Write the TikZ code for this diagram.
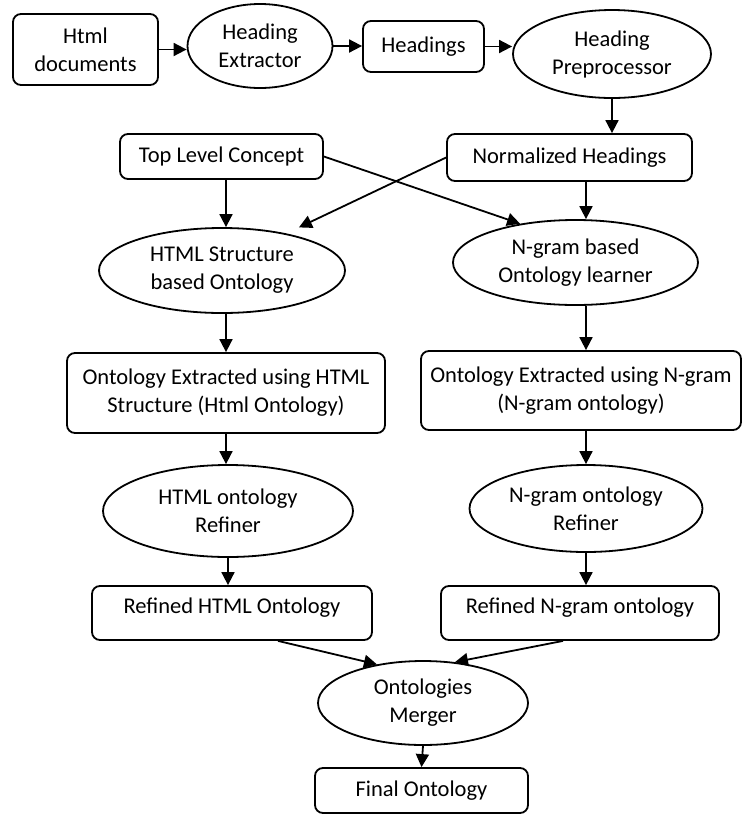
\documentclass[tikz,border=0pt]{standalone}
\usepackage{fontspec}
\setmainfont{Carlito}
\usetikzlibrary{shapes.geometric,arrows.meta}
\begin{document}
\begin{tikzpicture}[x=1pt, y=-1pt,
  every node/.style={font=\fontsize{22.5pt}{28pt}\selectfont, inner sep=0pt, line width=1.8pt},
  boxnode/.style={draw, rectangle, rounded corners=8pt, align=center},
  ovalnode/.style={draw, ellipse, align=center},
  flow/.style={line width=1.8pt, -{Triangle[length=13pt,width=13pt]}},
]
\useasboundingbox (0,0) rectangle (742,815);

% top row: extraction and preprocessing of headings
\node[boxnode, minimum width=145pt, minimum height=71pt] (html) at (85.5,49.5) {Html\\documents};
\node[ovalnode, minimum width=145pt, minimum height=84pt] (hext) at (260,46) {Heading\\Extractor};
\node[boxnode, minimum width=121pt, minimum height=51pt] (hdgs) at (423.5,46.5) {Headings};
\node[ovalnode, minimum width=198pt, minimum height=88pt] (hpre) at (612,54) {Heading\\Preprocessor};

% inputs of the two learners
\node[boxnode, minimum width=203pt, minimum height=45pt] (tlc) at (221.5,156.5) {Top Level Concept};
\node[boxnode, minimum width=245pt, minimum height=47pt] (nh) at (569.5,157.5) {Normalized Headings};

% learners
\node[ovalnode, minimum width=246pt, minimum height=85pt] (hso) at (222,270.5) {HTML Structure\\based Ontology};
\node[ovalnode, minimum width=245pt, minimum height=85pt] (ngl) at (575.5,262.5) {N-gram based\\Ontology learner};

% extracted ontologies
\node[boxnode, minimum width=318pt, minimum height=80pt] (oeh) at (226,393) {Ontology Extracted using HTML\\Structure (Html Ontology)};
\node[boxnode, minimum width=320pt, minimum height=79pt] (oen) at (581,390.5) {Ontology Extracted using N-gram\\(N-gram ontology)};

% refiners
\node[ovalnode, minimum width=250pt, minimum height=92pt] (hr) at (228,511) {HTML ontology\\Refiner};
\node[ovalnode, minimum width=233pt, minimum height=87pt] (nr) at (586,508.5) {N-gram ontology\\Refiner};

% refined ontologies
\node[boxnode, minimum width=280pt, minimum height=54pt, text height=15pt, text depth=15pt] (rh) at (232,613) {Refined HTML Ontology};
\node[boxnode, minimum width=278pt, minimum height=54pt, text height=15pt, text depth=15pt] (rn) at (580,613) {Refined N-gram ontology};

% merging
\node[ovalnode, minimum width=210pt, minimum height=84pt] (mrg) at (423,703) {Ontologies\\Merger};
\node[boxnode, minimum width=213pt, minimum height=45pt] (fin) at (421.5,790.5) {Final Ontology};

% connectors
\draw[flow] (html.east) -- (html.east -| hext.west);
\draw[flow] (hext.east) -- (hext.east -| hdgs.west);
\draw[flow] (hdgs.east) -- (hdgs.east -| hpre.west);
\draw[flow] (hpre.south) -- (hpre.south |- nh.north);

\draw[flow] (oeh.north |- tlc.south) -- (oeh.north |- hso.north);
\draw[flow] (nr.north |- nh.south) -- (nr.north |- ngl.north);
\draw[flow] (tlc.east) -- (ngl.145);
\draw[flow, shorten >=14pt] (nh.west) -- (hso.30);

\draw[flow] (oeh.north |- hso.south) -- (oeh.north);
\draw[flow] (oeh.south) -- (oeh.south |- hr.north);
\draw[flow] (hr.south) -- (hr.south |- rh.north);

\draw[flow] (nr.north |- ngl.south) -- (nr.north |- oen.north);
\draw[flow] (nr.north |- oen.south) -- (nr.north);
\draw[flow] (nr.south) -- (nr.south |- rn.north);

\draw[flow] ([xshift=46pt]rh.south) -- (mrg.140);
\draw[flow] ([xshift=-17pt]rn.south) -- (mrg.52);
\draw[flow] (mrg.south) -- (fin.north);
\end{tikzpicture}
\end{document}
